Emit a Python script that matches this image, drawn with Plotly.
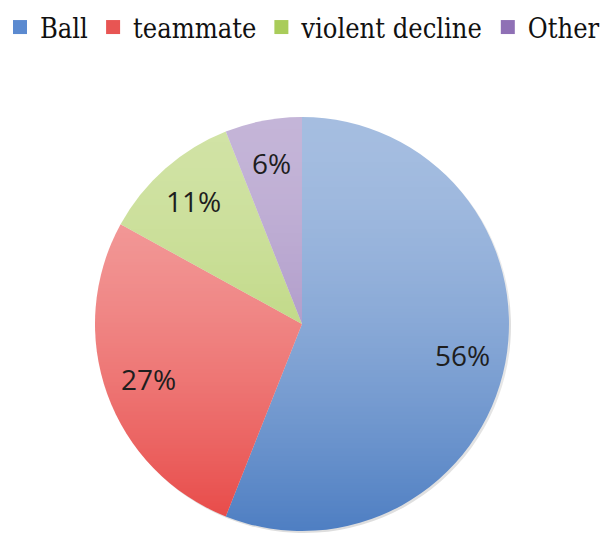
import math
import struct
import zlib
import base64
import plotly.graph_objects as go

# Share of injury causes
categories = ["Ball", "teammate", "violent decline", "Other"]
shares = [56, 27, 11, 6]
# deeper base tones; a white wash on top lightens the upper part of the pie
colors = ["#4f7fc3", "#e84846", "#a5c850", "#8c6eb2"]
legend_colors = ["#5b8ad0", "#e85553", "#a9cc5a", "#8f70b5"]

W, H = 608, 534
cx, cy, R = 302, 324, 207  # pie centre / radius in pixels

dom_x = [(cx - R) / W, (cx + R) / W]
dom_y = [(H - cy - R) / H, (H - cy + R) / H]


def gradient_png(top_alpha, power, n=256):
    """Vertical white wash (fading towards the bottom) as an RGBA PNG data URI."""
    rows = []
    for i in range(n):
        t = i / (n - 1)
        a = int(round(255 * top_alpha * (1 - t ** power)))
        rows.append(b"\x00" + bytes([255, 255, 255, a]) * 2)
    raw = b"".join(rows)

    def chunk(tag, data):
        c = struct.pack(">I", len(data)) + tag + data
        return c + struct.pack(">I", zlib.crc32(tag + data) & 0xFFFFFFFF)

    png = b"\x89PNG\r\n\x1a\n"
    png += chunk(b"IHDR", struct.pack(">IIBBBBB", 2, n, 8, 6, 0, 0, 0))
    png += chunk(b"IDAT", zlib.compress(raw, 9))
    png += chunk(b"IEND", b"")
    return "data:image/png;base64," + base64.b64encode(png).decode()


fig = go.Figure()

# soft drop shadow under the pie
shx, shy = 2, 2
fig.add_trace(
    go.Pie(
        values=shares,
        marker=dict(colors=["rgba(0,0,0,0.13)"] * len(shares), line=dict(width=0)),
        sort=False,
        direction="clockwise",
        textinfo="none",
        hoverinfo="skip",
        showlegend=False,
        domain=dict(x=[dom_x[0] + shx / W, dom_x[1] + shx / W],
                    y=[max(0.0, dom_y[0] - shy / H), dom_y[1] - shy / H]),
    )
)

fig.add_trace(
    go.Pie(
        labels=categories,
        values=shares,
        marker=dict(colors=colors, line=dict(width=0)),
        sort=False,
        direction="clockwise",
        rotation=0,
        textinfo="none",
        hoverinfo="label+percent",
        showlegend=False,
        domain=dict(x=dom_x, y=dom_y),
    )
)

# legend entries with square swatches
for cat, col in zip(categories, legend_colors):
    fig.add_trace(
        go.Scatter(
            x=[None], y=[None], mode="markers", name=cat,
            marker=dict(symbol="square", size=14, color=col),
            showlegend=True, hoverinfo="skip",
        )
    )

# percentage labels along each slice's bisector
total = sum(shares)
cum = 0
for cat, v in zip(categories, shares):
    mid = (cum + v / 2) / total * 2 * math.pi
    cum += v
    r = 0.79 * R
    px = cx + r * math.sin(mid)
    py = cy - r * math.cos(mid)
    fig.add_annotation(
        x=px / W, y=1 - py / H, xref="paper", yref="paper",
        text=f"{round(v / total * 100)}%", showarrow=False,
        font=dict(family="Open Sans", size=28, color="#1e1e1e"),
        xanchor="center", yanchor="middle",
    )

fig.add_layout_image(
    source=gradient_png(0.49, 1.6),
    xref="paper", yref="paper",
    x=dom_x[0], y=dom_y[1],
    sizex=dom_x[1] - dom_x[0], sizey=dom_y[1] - dom_y[0],
    xanchor="left", yanchor="top",
    sizing="stretch", layer="above",
)

fig.update_layout(
    width=W, height=H,
    margin=dict(l=0, r=0, t=0, b=0),
    paper_bgcolor="white",
    plot_bgcolor="white",
    xaxis=dict(visible=False),
    yaxis=dict(visible=False),
    legend=dict(
        orientation="h",
        x=0, y=1 - 3 / H, xanchor="left", yanchor="top",
        bgcolor="rgba(0,0,0,0)",
        font=dict(family="DejaVu Serif Condensed, DejaVu Serif", size=27, color="#111111"),
        itemsizing="trace",
        traceorder="normal",
    ),
)

fig.write_html("out.html")
